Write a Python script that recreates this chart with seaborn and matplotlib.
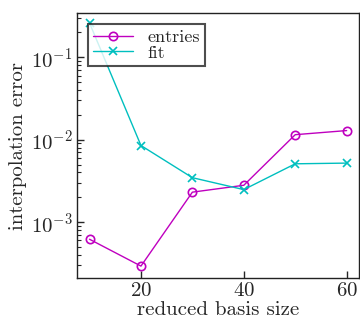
import matplotlib
matplotlib.use("Agg")
import matplotlib.pyplot as plt
import seaborn as sns
import pandas as pd

basis_size = [10, 20, 30, 40, 50, 60]
entries_err = [6.2e-4, 2.93e-4, 2.31e-3, 2.8e-3, 1.15e-2, 1.29e-2]
fit_err = [0.26, 8.5e-3, 3.46e-3, 2.48e-3, 5.1e-3, 5.2e-3]

sns.set_style("ticks")
plt.rcParams.update({
    "font.family": "serif",
    "font.serif": ["cmr10"],
    "mathtext.fontset": "cm",
    "axes.formatter.use_mathtext": True,
    "font.size": 15,
    "xtick.direction": "in",
    "ytick.direction": "in",
    "axes.edgecolor": "#222222",
    "axes.linewidth": 1.0,
})

df = pd.DataFrame({"size": basis_size, "entries": entries_err, "fit": fit_err})

fig = plt.figure(figsize=(3.6, 3.22), dpi=100)
ax = fig.add_axes([0.213, 0.1366, 0.7856, 0.823])

sns.lineplot(data=df, x="size", y="entries", ax=ax, color="m", marker="o",
             markerfacecolor="none", markeredgecolor="m", markeredgewidth=1.2,
             markersize=6, linewidth=1.0, label="entries")
sns.lineplot(data=df, x="size", y="fit", ax=ax, color="c", marker="x",
             markeredgecolor="c", markeredgewidth=1.2,
             markersize=6, linewidth=1.0, label="fit")

ax.set_yscale("log")
ax.set_xlim(7.5, 62.5)
ax.set_ylim(2.1e-4, 0.344)
ax.set_xticks([20, 40, 60])
ax.set_xlabel("reduced basis size", fontsize=15, labelpad=1)
ax.set_ylabel("interpolation error", fontsize=15, labelpad=3)
ax.tick_params(axis="both", which="major", length=5, width=1, labelsize=15, pad=3)
ax.tick_params(axis="y", which="minor", length=3, width=0.8)
ax.tick_params(top=False, right=False)
for s in ax.spines.values():
    s.set_visible(True)

leg = ax.legend(loc="upper left", fontsize=13, fancybox=False, framealpha=0.8,
                edgecolor="#222222", borderpad=0.3, handlelength=2.2,
                labelspacing=0.0, borderaxespad=0.6, handletextpad=0.8)
leg.get_frame().set_linewidth(1.5)

fig.savefig("out.png", dpi=100)
